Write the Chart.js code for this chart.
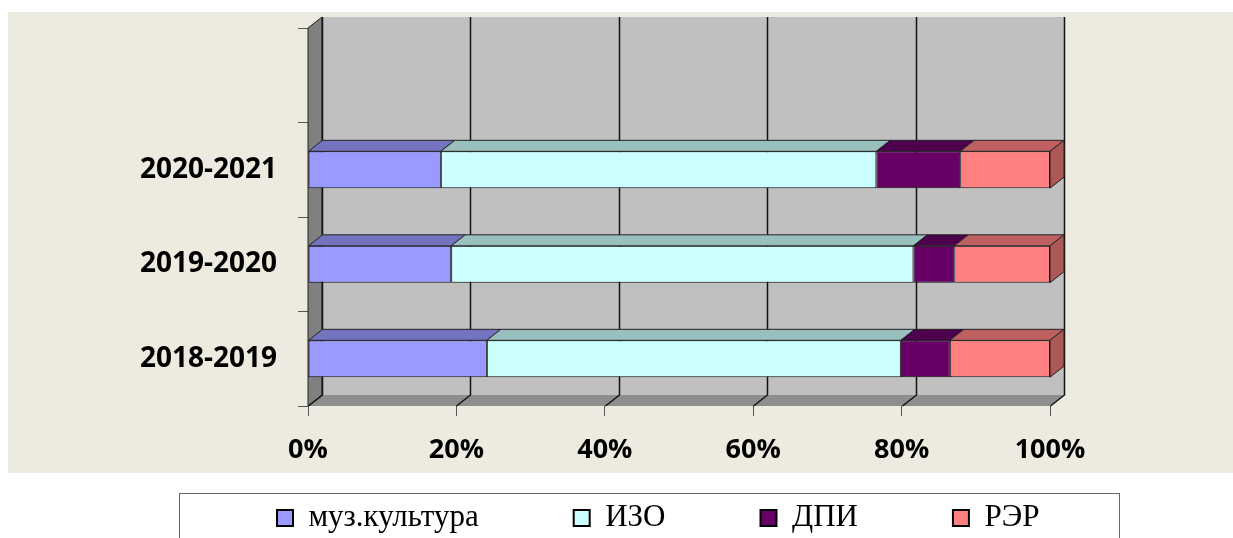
<!DOCTYPE html>
<html>
<head>
<meta charset="utf-8">
<script src="https://cdn.jsdelivr.net/npm/chart.js@4.4.0/dist/chart.umd.min.js"></script>
<style>
  html, body { margin: 0; background: #fff; }
  #wrap { width: 1233px; height: 538px; position: relative; }
</style>
</head>
<body>
<div id="wrap"><canvas id="chart"></canvas></div>
<script>
// categories (bottom to top), the last slot is left empty as in the original
const years = ['2018-2019', '2019-2020', '2020-2021', ''];
const seriesNames = ['муз.культура', 'ИЗО', 'ДПИ', 'РЭР'];
const muzKultura = [24.1, 19.3, 17.9];
const izo = [55.8, 62.3, 58.7];
const dpi = [6.6, 5.5, 11.3];
const rer = [13.5, 12.9, 12.1];
const xTickLabels = ['0%', '20%', '40%', '60%', '80%', '100%'];

const colors = ['#9999FF', '#CCFFFF', '#660066', '#FF8080'];
const DX = 14, DY = -11;   // depth of the 3d box

function shade(hex, f) {
    const n = parseInt(hex.slice(1), 16);
    const r = Math.round(((n >> 16) & 255) * f);
    const g = Math.round(((n >> 8) & 255) * f);
    const b = Math.round((n & 255) * f);
    return `rgb(${r},${g},${b})`;
}

function poly(ctx, pts, fill, stroke) {
    ctx.beginPath();
    pts.forEach((p, i) => i ? ctx.lineTo(p[0], p[1]) : ctx.moveTo(p[0], p[1]));
    ctx.closePath();
    if (fill) { ctx.fillStyle = fill; ctx.fill(); }
    if (stroke) { ctx.strokeStyle = stroke; ctx.lineWidth = 1; ctx.stroke(); }
}

const box3d = {
    id: 'box3d',
    beforeDraw(chart) {
        const ctx = chart.ctx;
        ctx.save();
        ctx.fillStyle = '#fff';
        ctx.fillRect(0, 0, chart.width, chart.height);
        ctx.fillStyle = '#EDEBE0';
        ctx.fillRect(8, 12, chart.width - 8, 461);
        ctx.restore();
    },
    afterLayout(chart) {
        // put the legend row where the original has it
        const lg = chart.legend;
        const p = lg.options.labels.padding;
        lg.left = 277 - p;
        lg.right = chart.width;
        lg.top = 518 - p - 15.5;
        lg.bottom = chart.height;
    },
    beforeDatasetsDraw(chart) {
        const ctx = chart.ctx;
        const { left, right, top, bottom } = chart.chartArea;
        const xs = chart.scales.x;
        ctx.save();
        poly(ctx, [[left + DX, top + DY], [right + DX, top + DY], [right + DX, bottom + DY], [left + DX, bottom + DY]], '#C0C0C0');
        poly(ctx, [[left, bottom], [left + DX, bottom + DY], [right + DX, bottom + DY], [right, bottom]], '#8E8E8E');
        poly(ctx, [[left, top], [left + DX, top + DY], [left + DX, bottom + DY], [left, bottom]], '#808080', '#222');
        ctx.strokeStyle = '#111';
        ctx.lineWidth = 1.5;
        xs.ticks.forEach(t => {
            const px = Math.round(xs.getPixelForValue(t.value)) + 0.5;
            ctx.beginPath();
            ctx.moveTo(px + DX, top + DY);
            ctx.lineTo(px + DX, bottom + DY);
            ctx.lineTo(px, bottom);
            ctx.stroke();
        });
        ctx.restore();
    },
    afterDatasetsDraw(chart) {
        const ctx = chart.ctx;
        const last = chart.data.datasets.length - 1;
        ctx.save();
        chart.data.datasets.forEach((ds, di) => {
            const meta = chart.getDatasetMeta(di);
            meta.data.forEach((bar, i) => {
                if (ds.data[i] == null) return;
                const { x, y, base, height } = bar.getProps(['x', 'y', 'base', 'height'], true);
                const t = y - height / 2;
                const x0 = Math.min(base, x), x1 = Math.max(base, x);
                poly(ctx, [[x0, t], [x1, t], [x1 + DX, t + DY], [x0 + DX, t + DY]], shade(ds.backgroundColor, 0.75), '#222');
                if (di === last) {
                    poly(ctx, [[x1, t], [x1 + DX, t + DY], [x1 + DX, t + height + DY], [x1, t + height]], shade(ds.backgroundColor, 0.68), '#222');
                }
            });
        });
        ctx.restore();
    },
    afterDraw(chart) {
        const ctx = chart.ctx;
        ctx.save();
        ctx.strokeStyle = '#666';
        ctx.lineWidth = 1;
        ctx.strokeRect(179.5, 493.5, 940, 60);
        ctx.restore();
    }
};

const seriesData = [muzKultura, izo, dpi, rer];

new Chart(document.getElementById('chart'), {
    type: 'bar',
    data: {
        labels: years,
        datasets: seriesNames.map((name, i) => ({
            label: name,
            data: seriesData[i],
            backgroundColor: colors[i],
            borderColor: '#111',
            borderWidth: 1,
            borderSkipped: false,
            barPercentage: 0.39,
            categoryPercentage: 1
        }))
    },
    options: {
        indexAxis: 'y',
        animation: false,
        responsive: true,
        maintainAspectRatio: false,
        layout: { padding: { top: 28, right: 183, bottom: 0, left: 8 } },
        plugins: {
            tooltip: { enabled: false },
            legend: {
                position: 'bottom',
                align: 'start',
                maxHeight: 60,
                labels: {
                    boxWidth: 16,
                    boxHeight: 16,
                    padding: 95,
                    color: '#000',
                    font: { family: 'Liberation Serif', size: 31 },
                    generateLabels: ch => Chart.defaults.plugins.legend.labels.generateLabels(ch)
                        .map(l => Object.assign(l, { lineWidth: 2, strokeStyle: '#000' }))
                }
            }
        },
        scales: {
            x: {
                stacked: true,
                min: 0,
                max: 100,
                ticks: {
                    stepSize: 20,
                    padding: 18,
                    color: '#000',
                    font: { family: 'Open Sans', size: 27, weight: 'bold' },
                    callback: (v, i) => xTickLabels[i]
                },
                grid: { drawOnChartArea: false, tickLength: 10, color: '#555' },
                border: { display: false },
                afterFit: s => { s.height = 72; }
            },
            y: {
                stacked: true,
                reverse: true,
                ticks: {
                    padding: 21,
                    color: '#000',
                    font: { family: 'Open Sans', size: 28, weight: 'bold' }
                },
                grid: { offset: true, drawOnChartArea: false, tickLength: 10, color: '#555' },
                border: { display: false },
                afterFit: s => { s.width = 300; s.paddingTop = 0; s.paddingBottom = 0; }
            }
        }
    },
    plugins: [box3d]
});
</script>
</body>
</html>
